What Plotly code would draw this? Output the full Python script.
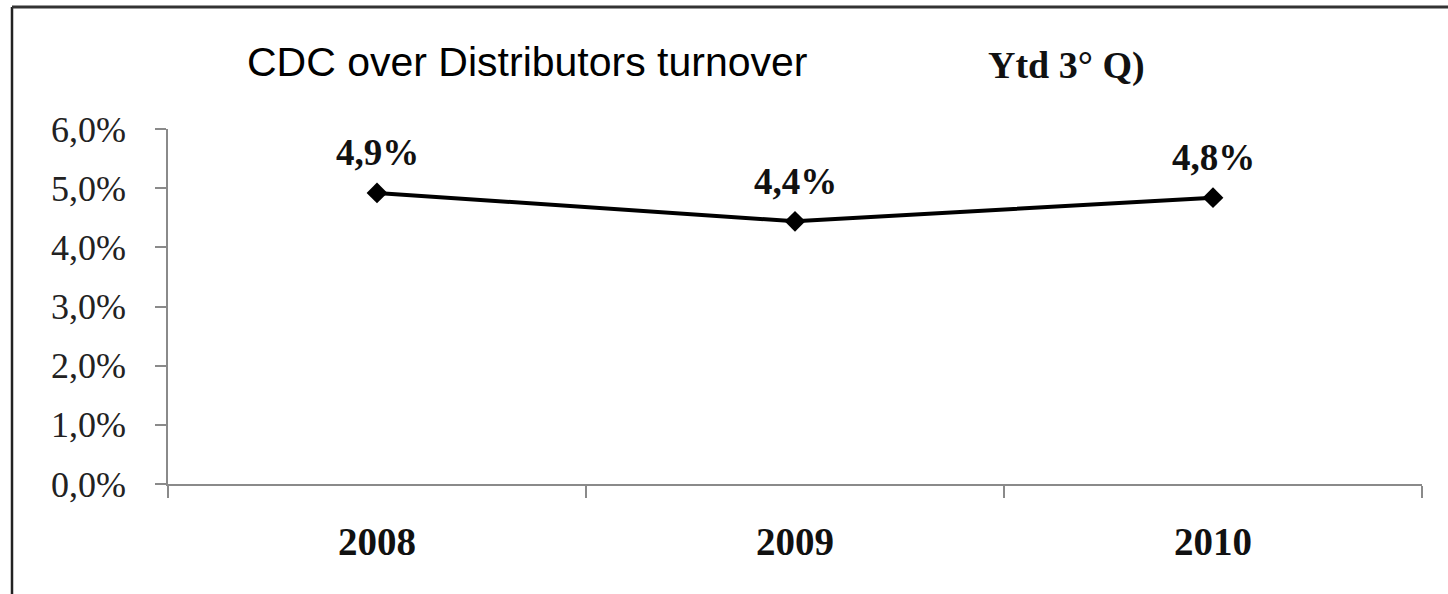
import plotly.graph_objects as go

# ---- data ----
years = ["2008", "2009", "2010"]
share_pct = [4.92, 4.44, 4.84]
title_text = "CDC over Distributors turnover"
subtitle_text = "Ytd 3° Q)"

# ---- layout geometry (pixels) ----
W, H = 1448, 594
ML, MR, MT, MB = 168, 26, 129, 110
PW, PH = W - ML - MR, H - MT - MB


def px_x(x):
    return (x - ML) / PW


def px_y(y):
    return (H - MB - y) / PH


labels = [f"{v:.1f}".replace(".", ",") + "%" for v in share_pct]

fig = go.Figure()
fig.add_trace(go.Scatter(
    x=years, y=share_pct, mode="lines+markers",
    line=dict(color="black", width=4),
    marker=dict(symbol="diamond", size=16, color="black"),
    showlegend=False, hoverinfo="skip", cliponaxis=False,
))

for i, (v, t) in enumerate(zip(share_pct, labels)):
    fig.add_annotation(xref="x", yref="y", x=i, y=v, text="<b>" + t + "</b>",
                       showarrow=False, yshift=40,
                       font=dict(family="Liberation Serif", size=37, color="#111"),
                       xanchor="center", yanchor="middle")

fig.add_annotation(xref="paper", yref="paper", x=px_x(527), y=px_y(62),
                   text=title_text, showarrow=False, xanchor="center", yanchor="middle",
                   font=dict(family="Liberation Sans, Arial", size=41, color="black"))
fig.add_annotation(xref="paper", yref="paper", x=px_x(1066), y=px_y(65),
                   text="<b>" + subtitle_text + "</b>", showarrow=False,
                   xanchor="center", yanchor="middle",
                   font=dict(family="Liberation Serif", size=38, color="#111"))

# frame lines (left and top)
fig.add_shape(type="line", xref="paper", yref="paper",
              x0=px_x(12), x1=px_x(12), y0=px_y(7), y1=px_y(H),
              line=dict(color="#222", width=2.5))
fig.add_shape(type="line", xref="paper", yref="paper",
              x0=px_x(12), x1=px_x(W), y0=px_y(7), y1=px_y(7),
              line=dict(color="#333", width=3))

fig.update_layout(
    width=W, height=H,
    margin=dict(l=ML, r=MR, t=MT, b=MB),
    paper_bgcolor="white", plot_bgcolor="white",
    separators=",.",
    xaxis=dict(
        type="category", range=[-0.5, 2.5], tickson="boundaries",
        showline=True, linecolor="#8a8a8a", linewidth=2,
        ticks="outside", ticklen=12, tickcolor="#8a8a8a", tickwidth=1.5,
        showgrid=False, zeroline=False,
        tickfont=dict(family="Liberation Serif", size=39, color="#111", weight="bold"),
        ticklabelstandoff=22,
    ),
    yaxis=dict(
        range=[0, 6], dtick=1, tickformat=".1f", ticksuffix="%",
        showline=True, linecolor="#8a8a8a", linewidth=1.5,
        ticks="outside", ticklen=11, tickcolor="#8a8a8a", tickwidth=1.5,
        showgrid=False, zeroline=False,
        tickfont=dict(family="Liberation Serif", size=36, color="#222"),
        ticklabelstandoff=22,
    ),
)

fig.write_html("out.html")
